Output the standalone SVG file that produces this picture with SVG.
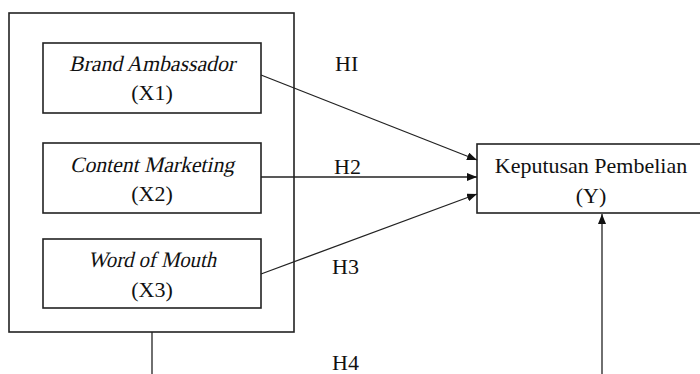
<svg xmlns="http://www.w3.org/2000/svg" width="700" height="374" viewBox="0 0 700 374">
  <style>
    .box { fill: #fff; stroke: #222; stroke-width: 1.6; }
    .frame { fill: none; stroke: #222; stroke-width: 1.6; }
    .t { font-family: "Liberation Serif", "Times New Roman", "DejaVu Serif", serif; font-size: 22px; fill: #111; text-anchor: middle; }
    .lbl { font-family: "Liberation Serif", "Times New Roman", "DejaVu Serif", serif; font-size: 22px; fill: #111; }
    .edge { fill: none; stroke: #222; stroke-width: 1.3; }
  </style>
  <defs>
    <marker id="head" viewBox="0 0 10 8" refX="10" refY="4" markerWidth="10" markerHeight="8" markerUnits="userSpaceOnUse" orient="auto">
      <path d="M0,0 L10,4 L0,8 Z" fill="#111"/>
    </marker>
  </defs>

  <!-- independent variables frame -->
  <g id="frame-x">
    <rect class="frame" x="9" y="13" width="285" height="319"/>
  </g>

  <!-- variable names are slanted serif text -->
  <g id="x1">
    <rect class="box" x="43" y="43" width="218" height="70"/>
    <text class="t" transform="translate(152,71) skewX(-13)" x="0" y="0" textLength="166" lengthAdjust="spacingAndGlyphs">Brand Ambassador</text>
    <text class="t" x="152" y="100">(X1)</text>
  </g>

  <g id="x2">
    <rect class="box" x="43" y="143" width="218" height="70"/>
    <text class="t" transform="translate(152,172) skewX(-13)" x="0" y="0" textLength="164" lengthAdjust="spacingAndGlyphs">Content Marketing</text>
    <text class="t" x="152" y="201">(X2)</text>
  </g>

  <g id="x3">
    <rect class="box" x="43" y="239" width="218" height="69"/>
    <text class="t" transform="translate(152,267) skewX(-13)" x="0" y="0" textLength="128" lengthAdjust="spacingAndGlyphs">Word of Mouth</text>
    <text class="t" x="152" y="297">(X3)</text>
  </g>

  <g id="y">
    <rect class="box" x="477" y="144" width="240" height="69"/>
    <text class="t" x="591" y="173">Keputusan Pembelian</text>
    <text class="t" x="591" y="203">(Y)</text>
  </g>

  <!-- hypothesis paths -->
  <g id="connectors">
    <line class="edge" x1="261" y1="75" x2="477" y2="160" marker-end="url(#head)"/>
    <line class="edge" x1="261" y1="177" x2="477" y2="177" marker-end="url(#head)"/>
    <line class="edge" x1="261" y1="274" x2="477" y2="194" marker-end="url(#head)"/>
    <line class="edge" x1="152" y1="332" x2="152" y2="374"/>
    <line class="edge" x1="602" y1="374" x2="602" y2="214" marker-end="url(#head)"/>
  </g>

  <g id="labels">
    <text class="lbl" x="335" y="71">HI</text>
    <text class="lbl" x="334" y="174">H2</text>
    <text class="lbl" x="332" y="274">H3</text>
    <text class="lbl" x="332" y="370">H4</text>
  </g>
</svg>
